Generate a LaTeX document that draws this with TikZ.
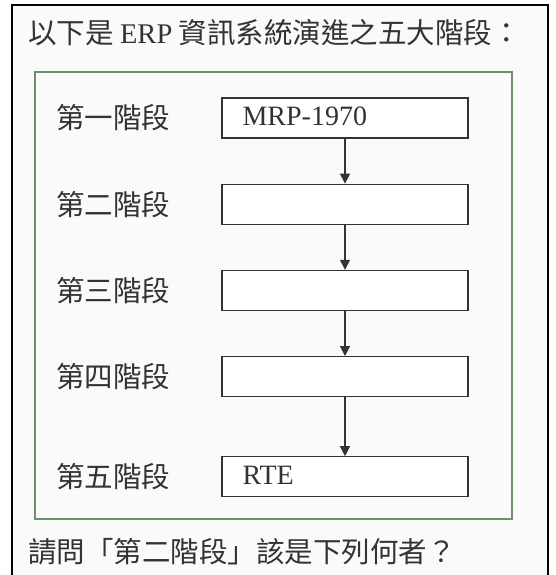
\documentclass[tikz,border=0pt]{standalone}
\usepackage{fontspec}
\setmainfont{Liberation Serif}
\newfontfamily\cjk{Noto Sans CJK TC}
\usetikzlibrary{arrows.meta, positioning, calc}
\definecolor{framegreen}{HTML}{6E8F6E}
\definecolor{inkgray}{HTML}{333333}
\definecolor{paper}{HTML}{FAFAFA}

\begin{document}
\begin{tikzpicture}[
    x=1pt, y=-1pt,
    stagebox/.style={draw=inkgray, line width=1.2pt, fill=white, minimum width=246pt, minimum height=40pt, inner sep=0pt},
    stagelabel/.style={font=\cjk\fontsize{28.5}{28.5}\selectfont, text=inkgray, inner sep=0pt},
    boxtext/.style={font=\fontsize{28}{28}\selectfont, text=inkgray, inner sep=0pt, anchor=base west},
    textline/.style={font=\cjk\fontsize{28.5}{28.5}\selectfont, text=inkgray, inner sep=0pt, anchor=west},
    flow/.style={-{Triangle[length=10pt, width=10pt]}, line width=1.2pt, draw=inkgray, fill=inkgray},
    node distance=45pt
]
    \useasboundingbox (0,0) rectangle (555,575);

    % Page and frames
    \fill[paper] (12,5) rectangle (548,575);
    \draw[black, line width=1.2pt] (12,575) -- (12,5) -- (548,5) -- (548,575);
    \draw[framegreen, line width=1.5pt] (35,72) rectangle (512,519);

    % Stage boxes - relative positioning
    \node[stagebox] at (345,118) (s1) {};
    \node[stagebox, below=of s1] (s2) {};
    \node[stagebox, below=of s2] (s3) {};
    \node[stagebox, below=of s3] (s4) {};
    \node[stagebox, below=59pt of s4] (s5) {};

    % Stage names left of the boxes
    \node[stagelabel, left=51pt of s1] (l1) {第一階段};
    \node[stagelabel, left=51pt of s2] (l2) {第二階段};
    \node[stagelabel, left=51pt of s3] (l3) {第三階段};
    \node[stagelabel, left=51pt of s4] (l4) {第四階段};
    \node[stagelabel, left=51pt of s5] (l5) {第五階段};

    % Known stages
    \node[boxtext] at ($(s1.north west)+(21,28)$) (t1) {MRP-1970};
    \node[boxtext] at ($(s5.north west)+(21,28)$) (t5) {RTE};

    % Arrows between stages
    \draw[flow] (s1) -- (s2);
    \draw[flow] (s2) -- (s3);
    \draw[flow] (s3) -- (s4);
    \draw[flow] (s4) -- (s5);

    % Title and question
    \node[textline] at (28,33) (title) {以下是 {\rmfamily ERP} 資訊系統演進之五大階段：};
    \node[textline] at (28,552) (question) {請問「第二階段」該是下列何者？};
\end{tikzpicture}
\end{document}
